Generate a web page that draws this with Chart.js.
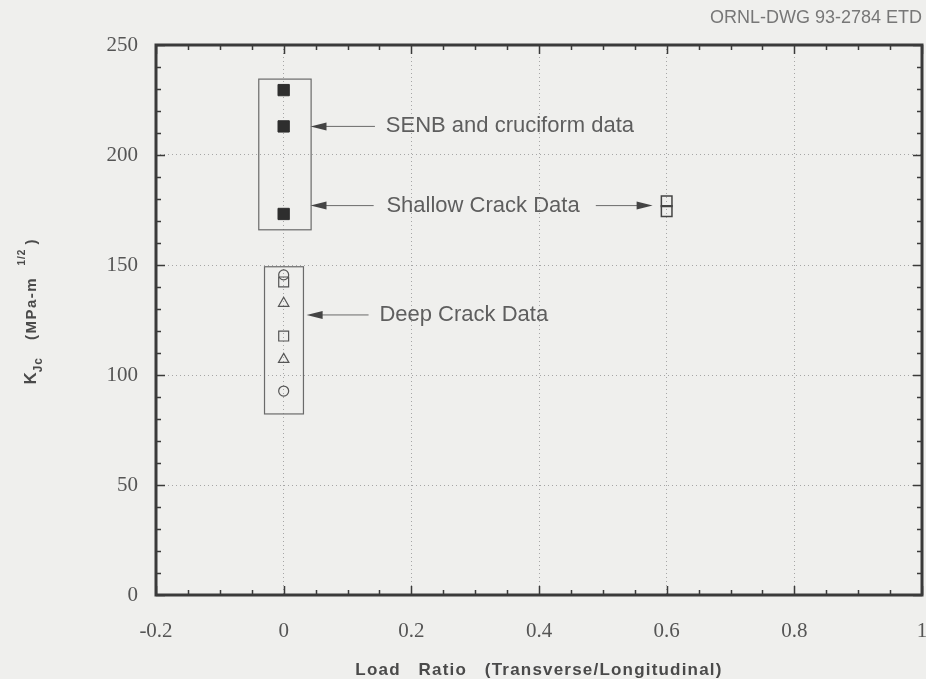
<!DOCTYPE html>
<html>
<head>
<meta charset="utf-8">
<title>K_Jc vs load ratio</title>
<script src="https://cdn.jsdelivr.net/npm/chart.js@4.4.1/dist/chart.umd.min.js"></script>
<style>
  html, body { margin: 0; padding: 0; background: #efefed; }
  #wrap { width: 926px; height: 679px; }
</style>
</head>
<body>
<div id="wrap"><canvas id="c" width="926" height="679"></canvas></div>
<script>
// Fracture toughness K_Jc (MPa·m^1/2) against biaxial load ratio
const xTickValues = [-0.2, 0, 0.2, 0.4, 0.6, 0.8, 1];
const yTickValues = [0, 50, 100, 150, 200, 250];

// SENB and cruciform specimens, shallow cracks (filled squares)
const senbLoadRatio = [0, 0, 0];
const senbKJc = [229.5, 213, 173.2];

// Deep crack specimens (open symbols)
const deepCircleLoadRatio = [0, 0];
const deepCircleKJc = [145.5, 92.7];
const deepSquareLoadRatio = [0, 0];
const deepSquareKJc = [142.3, 117.7];
const deepTriangleLoadRatio = [0, 0];
const deepTriangleKJc = [132.6, 107.1];

// Biaxial cruciform, shallow crack
const shallowBiaxLoadRatio = [0.6, 0.6];
const shallowBiaxKJc = [174.5, 179];

const pts = (xs, ys) => xs.map((x, i) => ({ x, y: ys[i] }));

const INK = '#3a3a3a';
const MARK = '#555555';
const TEXT = '#5e5e5e';

// Boxes, arrows and notes placed in data units
const groupBoxes = [
  { x0: -0.039, x1: 0.043, y0: 166, y1: 234.5 },
  { x0: -0.030, x1: 0.031, y0: 82.3, y1: 149.2 }
];
const notes = [
  { text: 'SENB and cruciform data', x: 0.160, y: 213 },
  { text: 'Shallow Crack Data', x: 0.161, y: 177 },
  { text: 'Deep Crack Data', x: 0.150, y: 127.3 }
];
const arrows = [
  { from: 0.143, to: 0.042, y: 213 },
  { from: 0.141, to: 0.042, y: 177 },
  { from: 0.489, to: 0.578, y: 177 },
  { from: 0.133, to: 0.036, y: 127.3 }
];

const decor = {
  id: 'decor',
  afterDraw(chart) {
    const { ctx, chartArea: a, scales: { x, y } } = chart;
    ctx.save();

    // inward ticks on all four sides
    ctx.strokeStyle = INK;
    ctx.lineWidth = 1.5;
    ctx.beginPath();
    for (let v = 0; v <= 250; v += 10) {
      const p = Math.round(y.getPixelForValue(v)) + 0.5;
      const len = v % 50 === 0 ? 9 : 5;
      ctx.moveTo(a.left, p); ctx.lineTo(a.left + len, p);
      ctx.moveTo(a.right, p); ctx.lineTo(a.right - len, p);
    }
    for (let i = 0; i <= 24; i++) {
      const v = -0.2 + i * 0.05;
      const p = Math.round(x.getPixelForValue(v)) + 0.5;
      const len = i % 4 === 0 ? 9 : 5;
      ctx.moveTo(p, a.bottom); ctx.lineTo(p, a.bottom - len);
      ctx.moveTo(p, a.top); ctx.lineTo(p, a.top + len);
    }
    ctx.stroke();

    // plot frame
    ctx.lineWidth = 3;
    ctx.strokeRect(a.left, a.top, a.right - a.left, a.bottom - a.top);

    // group boxes
    ctx.strokeStyle = '#6a6a6a';
    ctx.lineWidth = 1.2;
    groupBoxes.forEach(b => {
      const l = x.getPixelForValue(b.x0), r = x.getPixelForValue(b.x1);
      const t = y.getPixelForValue(b.y1), btm = y.getPixelForValue(b.y0);
      ctx.strokeRect(l, t, r - l, btm - t);
    });

    // arrows
    arrows.forEach(ar => {
      const x0 = x.getPixelForValue(ar.from), x1 = x.getPixelForValue(ar.to);
      const py = y.getPixelForValue(ar.y);
      const dir = Math.sign(x1 - x0);
      ctx.strokeStyle = '#6a6a6a';
      ctx.lineWidth = 1;
      ctx.beginPath();
      ctx.moveTo(x0, py); ctx.lineTo(x1 - dir * 10, py);
      ctx.stroke();
      ctx.fillStyle = '#444';
      ctx.beginPath();
      ctx.moveTo(x1, py);
      ctx.lineTo(x1 - dir * 16, py - 4);
      ctx.lineTo(x1 - dir * 16, py + 4);
      ctx.closePath();
      ctx.fill();
    });

    // notes
    ctx.fillStyle = TEXT;
    ctx.font = '22px "Liberation Sans", Arial, sans-serif';
    ctx.textBaseline = 'middle';
    ctx.textAlign = 'left';
    notes.forEach(n => ctx.fillText(n.text, x.getPixelForValue(n.x), y.getPixelForValue(n.y)));

    // drawing number
    ctx.fillStyle = '#777';
    ctx.font = '18px "Liberation Sans", Arial, sans-serif';
    ctx.textAlign = 'right';
    ctx.textBaseline = 'alphabetic';
    ctx.fillText('ORNL-DWG 93-2784 ETD', 922, 23);

    // x axis title
    ctx.fillStyle = '#4a4a4a';
    ctx.font = 'bold 17px "Liberation Sans Narrow", "Liberation Sans", sans-serif';
    ctx.letterSpacing = '1.2px';
    ctx.textAlign = 'center';
    ctx.fillText('Load   Ratio   (Transverse/Longitudinal)', (a.left + a.right) / 2, 675);

    // y axis title: K_Jc (MPa-m^1/2)
    ctx.translate(36, 312);
    ctx.rotate(-Math.PI / 2);
    const parts = [
      { t: 'K', f: 'bold 17px', dy: 0, ls: 0 },
      { t: 'Jc', f: 'bold 12px', dy: 6, ls: 1 },
      { t: '   (MPa-m', f: 'bold 15px', dy: 0, ls: 1.5 },
      { t: '   1/2', f: 'bold 10px', dy: -11, ls: 1 },
      { t: ' )', f: 'bold 15px', dy: 0, ls: 0 }
    ];
    const fam = ' "Liberation Sans Narrow", "Liberation Sans", sans-serif';
    let total = 0;
    parts.forEach(p => {
      ctx.font = p.f + fam; ctx.letterSpacing = p.ls + 'px';
      p.w = ctx.measureText(p.t).width; total += p.w;
    });
    let cx = -total / 2;
    ctx.textAlign = 'left';
    parts.forEach(p => {
      ctx.font = p.f + fam; ctx.letterSpacing = p.ls + 'px';
      ctx.fillText(p.t, cx, p.dy); cx += p.w;
    });

    ctx.restore();
  }
};

const tickLabel = v => String(Math.round(v * 10) / 10);

new Chart(document.getElementById('c'), {
  type: 'scatter',
  data: {
    datasets: [
      { data: pts(senbLoadRatio, senbKJc), pointStyle: 'rect', pointRadius: 8,
        backgroundColor: '#2e2e2e', borderColor: '#2e2e2e', borderWidth: 1 },
      { data: pts(deepCircleLoadRatio, deepCircleKJc), pointStyle: 'circle', pointRadius: 5,
        backgroundColor: 'rgba(0,0,0,0)', borderColor: MARK, borderWidth: 1.2 },
      { data: pts(deepSquareLoadRatio, deepSquareKJc), pointStyle: 'rect', pointRadius: 7,
        backgroundColor: 'rgba(0,0,0,0)', borderColor: MARK, borderWidth: 1.2 },
      { data: pts(deepTriangleLoadRatio, deepTriangleKJc), pointStyle: 'triangle', pointRadius: 6,
        backgroundColor: 'rgba(0,0,0,0)', borderColor: MARK, borderWidth: 1.2 },
      { data: pts(shallowBiaxLoadRatio, shallowBiaxKJc), pointStyle: 'rect', pointRadius: 7.5,
        backgroundColor: 'rgba(0,0,0,0)', borderColor: '#444', borderWidth: 1.5 }
    ]
  },
  options: {
    responsive: false,
    animation: false,
    events: [],
    layout: { autoPadding: false, padding: { left: 0, right: 4, top: 45, bottom: 0 } },
    plugins: { legend: { display: false }, tooltip: { enabled: false } },
    scales: {
      x: {
        type: 'linear', min: -0.2, max: 1,
        afterBuildTicks: s => { s.ticks = xTickValues.map(v => ({ value: v })); },
        ticks: { callback: tickLabel, color: '#555', padding: 24, maxRotation: 0, autoSkip: false,
                 font: { family: '"Liberation Serif", "Times New Roman", serif', size: 21 } },
        grid: { color: '#a6a6a6', lineWidth: 1, drawTicks: false },
        border: { display: false, dash: [1, 3] },
        afterFit: s => { s.height = 84; s.paddingLeft = 0; s.paddingRight = 0; }
      },
      y: {
        type: 'linear', min: 0, max: 250,
        afterBuildTicks: s => { s.ticks = yTickValues.map(v => ({ value: v })); },
        ticks: { callback: tickLabel, color: '#555', padding: 18,
                 font: { family: '"Liberation Serif", "Times New Roman", serif', size: 21 } },
        grid: { color: '#a6a6a6', lineWidth: 1, drawTicks: false },
        border: { display: false, dash: [1, 3] },
        afterFit: s => { s.width = 156; s.paddingTop = 0; s.paddingBottom = 0; }
      }
    }
  },
  plugins: [decor]
});
</script>
</body>
</html>
